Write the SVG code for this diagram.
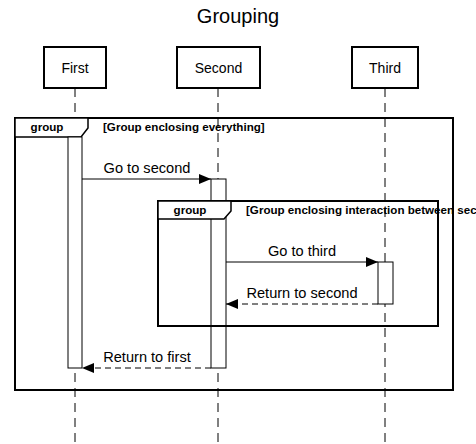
<svg xmlns="http://www.w3.org/2000/svg" width="476" height="444" viewBox="0 0 476 444">
<defs>
<style>
text{font-family:"Liberation Sans",Arial,sans-serif;fill:#000}
.actor{fill:#fff;stroke:#000;stroke-width:2}
.aname{font-size:14px;text-anchor:middle}
.life{stroke:#000;stroke-width:1;stroke-dasharray:9,6;fill:none}
.act{fill:#fff;stroke:#000;stroke-width:1}
.grp{fill:none;stroke:#000;stroke-width:2}
.glab{fill:#fff;stroke:#000;stroke-width:1.5}
.gt{font-size:11.6px;font-weight:bold}
.msg{stroke:#000;stroke-width:1;fill:none}
.dash{stroke-dasharray:6,4}
.mt{font-size:14.6px;text-anchor:middle}
</style>
<marker id="ah" viewBox="0 0 12 10" refX="12" refY="5" markerWidth="12" markerHeight="10" markerUnits="userSpaceOnUse" orient="auto">
<path d="M0,0 L12,5 L0,10 z" fill="#000"/>
</marker>
</defs>
<rect width="476" height="444" fill="#fff"/>
<text x="238" y="23" font-size="20" text-anchor="middle">Grouping</text>
<g id="lifelines">
<line class="life" x1="75" y1="88" x2="75" y2="444"/>
<line class="life" x1="218" y1="88" x2="218" y2="444"/>
<line class="life" x1="385" y1="88" x2="385" y2="444"/>
</g>
<g id="actor-first"><rect class="actor" x="44" y="47" width="62" height="41"/><text class="aname" x="75" y="73">First</text></g>
<g id="actor-second"><rect class="actor" x="177" y="47" width="83" height="41"/><text class="aname" x="218.5" y="73">Second</text></g>
<g id="actor-third"><rect class="actor" x="352" y="47" width="66" height="41"/><text class="aname" x="385" y="73">Third</text></g>
<g id="group-outer">
<rect class="grp" x="15" y="118" width="438" height="272"/>
<polygon class="glab" points="15,118 88,118 88,128 81,137 15,137"/>
<text class="gt" x="47" y="131" text-anchor="middle">group</text>
<text class="gt" x="103" y="131">[Group enclosing everything]</text>
</g>
<g id="act-first"><rect class="act" x="68" y="137" width="14" height="231"/></g>
<g id="act-second"><rect class="act" x="211" y="179" width="15" height="189"/></g>
<g id="group-inner">
<rect class="grp" x="158" y="201" width="280" height="125"/>
<polygon class="glab" points="158,201 231,201 231,211 224,219 158,219"/>
<text class="gt" x="190" y="214" text-anchor="middle">group</text>
<text class="gt" x="246" y="214">[Group enclosing interaction between second and third]</text>
</g>
<g id="act-third"><rect class="act" x="378" y="262" width="15" height="42"/></g>
<g id="connectors">
<line class="msg" x1="82" y1="179" x2="211" y2="179" marker-end="url(#ah)"/>
<text class="mt" x="147" y="173">Go to second</text>
<line class="msg" x1="226" y1="262" x2="378" y2="262" marker-end="url(#ah)"/>
<text class="mt" x="302" y="256">Go to third</text>
<line class="msg dash" x1="378" y1="304" x2="226" y2="304" marker-end="url(#ah)"/>
<text class="mt" x="302" y="298">Return to second</text>
<line class="msg dash" x1="211" y1="368" x2="82" y2="368" marker-end="url(#ah)"/>
<text class="mt" x="147" y="362">Return to first</text>
</g>
</svg>
